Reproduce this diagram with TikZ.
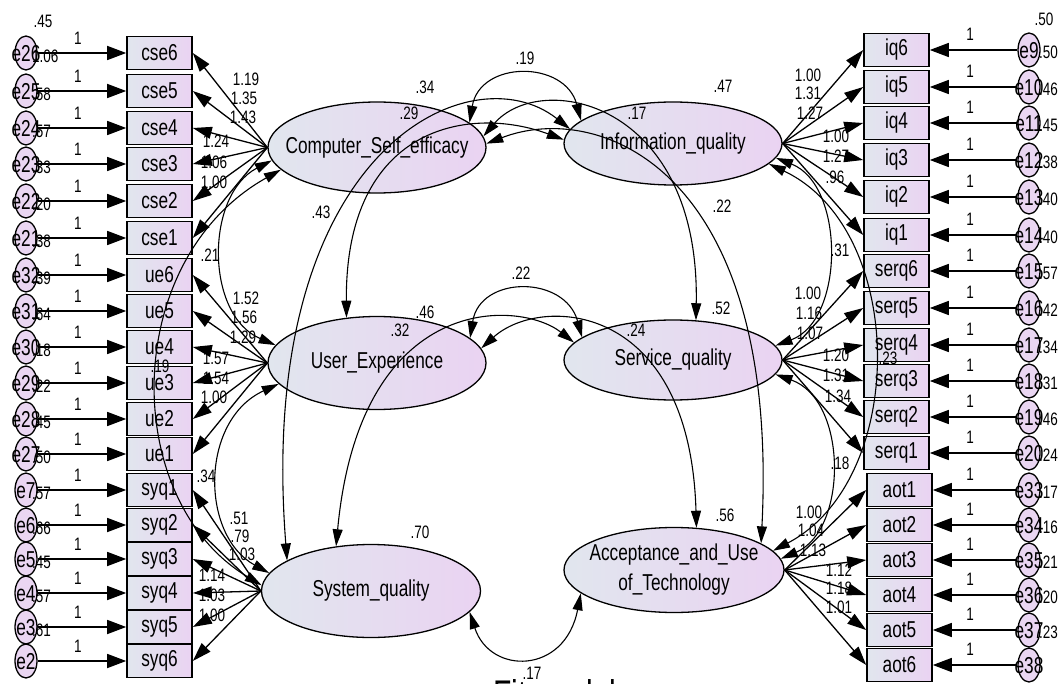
\documentclass[tikz,border=0pt]{standalone}
\usepackage{fontspec}
\setmainfont{Liberation Sans}[FakeStretch=0.75]
\usetikzlibrary{arrows.meta,shapes.geometric}
\definecolor{shL}{HTML}{E1E6EE}
\definecolor{shR}{HTML}{EAD3F2}
\definecolor{errC}{HTML}{EAD6F2}
\tikzset{
  lat/.style={ellipse, draw, line width=1.3pt, left color=shL, right color=shR, inner sep=0pt},
  lbl/.style={inner sep=0pt, align=center, font=\fontsize{23}{24}\selectfont},
  obs/.style={rectangle, draw, line width=1.6pt, minimum width=65pt, minimum height=33pt, left color=shL, right color=shR, inner sep=0pt, font=\fontsize{23}{24}\selectfont},
  err/.style={ellipse, draw, line width=1.3pt, minimum width=22pt, minimum height=34pt, fill=errC, inner sep=0pt},
  etxt/.style={inner sep=0pt, font=\fontsize{23}{24}\selectfont},
  num/.style={inner sep=0pt, font=\fontsize{18}{19}\selectfont},
  earr/.style={line width=1.5pt, -{Triangle[length=19pt,width=14pt]}},
  load/.style={line width=1.3pt, -{Triangle[length=19pt,width=12pt]}},
  cov/.style={line width=1.1pt, {Triangle[length=17pt,width=10pt]}-{Triangle[length=17pt,width=10pt]}}
}
\begin{document}
\begin{tikzpicture}[x=1pt,y=-1pt]
\useasboundingbox (0,0) rectangle (1059,684);
\fill[white] (0,0) rectangle (1059,684);

% latent variables
\node[lat, minimum width=218pt, minimum height=91pt] (CSE) at (377,147.5) {};
\node[lat, minimum width=218pt, minimum height=83pt] (IQ) at (673,143.5) {};
\node[lat, minimum width=218pt, minimum height=93pt] (UE) at (377,363) {};
\node[lat, minimum width=218pt, minimum height=80pt] (SQ) at (673,360) {};
\node[lat, minimum width=219pt, minimum height=93pt] (SYS) at (371,591) {};
\node[lat, minimum width=220pt, minimum height=85pt] (AUT) at (674,570) {};
\node[lbl] (CSEt) at (CSE) {Computer\_Self\_efficacy};
\node[lbl] (IQt) at (IQ) {Information\_quality};
\node[lbl] (UEt) at (UE) {User\_Experience};
\node[lbl] (SQt) at (SQ) {Service\_quality};
\node[lbl] (SYSt) at (SYS) {System\_quality};
\node[lbl, font=\fontsize{23}{30}\selectfont] (AUTt) at (AUT) {Acceptance\_and\_Use\\of\_Technology};

% left indicators
\foreach \n/\y/\e/\v in {cse6/53/e26/1.06, cse5/91/e25/.58, cse4/128/e24/.57, cse3/164/e23/.33, cse2/201/e22/.20, cse1/238/e21/.38,
  ue6/275/e32/.39, ue5/311/e31/.64, ue4/347/e30/.18, ue3/383/e29/.22, ue2/419/e28/.45, ue1/454/e27/.50,
  syq1/490/e7/.57, syq2/525/e6/.66, syq3/559/e5/.45, syq4/593/e4/.57, syq5/627/e3/.61, syq6/661/e2/}{
  \node[obs] (\n) at (159.5,\y) {\n};
  \node[err] (\e) at (26,\y) {};
  \draw[earr] (\e) -- (\n);
  \node[num] (\e-one) at (78,\y-15) {1};
  \node[num, anchor=west] (\e-var) at (32,\y+3) {\v};
  \node[etxt] (\e-t) at (26,\y+1) {\e};
}
% right indicators
\foreach \n/\y/\e/\v/\bx in {iq6/50/e9/.50/896.5, iq5/87/e10/.46/896.5, iq4/123/e11/.45/896.5, iq3/160/e12/.38/896.5, iq2/197/e13/.40/896.5, iq1/235/e14/.40/896.5,
  serq6/271/e15/.57/896.5, serq5/308/e16/.42/896.5, serq4/345/e17/.34/896.5, serq3/381/e18/.31/896.5, serq2/417/e19/.46/896.5, serq1/453/e20/.24/896.5,
  aot1/490/e33/.17/899.5, aot2/525/e34/.16/899.5, aot3/560/e35/.21/899.5, aot4/595/e36/.20/899.5, aot5/630/e37/.23/899.5, aot6/665/e38//899.5}{
  \node[obs] (\n) at (\bx,\y) {\n};
  \node[err] (\e) at (1029,\y) {};
  \draw[earr] (\e) -- (\n);
  \node[num] (\e-one) at (970,\y-16) {1};
  \node[num, anchor=east] (\e-var) at (1058,\y+2) {\v};
  \node[etxt] (\e-t) at (1029,\y+1) {\e};
}
\node[num] (v45) at (43,21) {.45};
\node[num] (v50) at (1044,19) {.50};

% loadings
\foreach \n in {cse6,cse5,cse4,cse3,cse2,cse1} \draw[load] (CSE.west) -- (\n.east);
\foreach \n in {ue6,ue5,ue4,ue3,ue2,ue1} \draw[load] (UE.west) -- (\n.east);
\foreach \n in {syq1,syq2,syq3,syq4,syq5,syq6} \draw[load] (SYS.west) -- (\n.east);
\foreach \n in {iq6,iq5,iq4,iq3,iq2,iq1} \draw[load] (IQ.east) -- (\n.west);
\foreach \n in {serq6,serq5,serq4,serq3,serq2,serq1} \draw[load] (SQ.east) -- (\n.west);
\foreach \n in {aot1,aot2,aot3,aot4,aot5,aot6} \draw[load] (AUT.east) -- (\n.west);

\foreach \t/\x/\y [count=\i] in {1.19/246/79, 1.35/244/98, 1.43/243/117, 1.24/216/141, 1.06/214/162, 1.00/214/182,
  1.52/246/298, 1.56/244/317, 1.29/243/337, 1.57/216/358, 1.54/216/378, 1.00/214/397,
  .51/239/518, .79/240/536, 1.03/242/554, 1.14/212/575, 1.03/212/595, 1.00/212/615,
  1.00/808/75, 1.31/808/93, 1.27/810/113, 1.00/836/136, 1.27/836/156, .96/835/177,
  1.00/808/293, 1.16/809/313, 1.07/810/333, 1.20/836/355, 1.31/836/375, 1.34/838/396,
  1.00/809/512, 1.04/811/530, 1.13/813/550, 1.12/839/570, 1.18/839/588, 1.01/839/607}
  \node[num] (ld\i) at (\x,\y) {\t};

% covariances
\draw[cov] (CSE.15) .. controls (480,60) and (565,60) .. (IQ.166);
\draw[cov] (UE.15) .. controls (480,275) and (565,275) .. (SQ.166);
\draw[cov] (SYS.-12) .. controls (490,675) and (565,675) .. (AUT.194);
\draw[cov] (CSE.187) .. controls (205,195) and (205,315) .. (UE.170);
\draw[cov] (UE.192) .. controls (200,420) and (200,535) .. (SYS.170);
\draw[cov] (CSE.193) .. controls (120,260) and (120,500) .. (SYS.177);
\draw[cov] (IQ.-8) .. controls (845,185) and (845,320) .. (SQ.8);
\draw[cov] (SQ.-8) .. controls (848,400) and (848,530) .. (AUT.6);
\draw[cov] (IQ.-12) .. controls (908,230) and (908,480) .. (AUT.11);
\draw[cov] (IQ.172) .. controls (470,50) and (255,150) .. (SYS.160);
\draw[cov] (IQ.178) .. controls (470,105) and (345,125) .. (UE.124);
\draw[cov] (CSE.6) .. controls (540,70) and (700,100) .. (SQ.60);
\draw[cov] (CSE.2) .. controls (600,100) and (780,170) .. (AUT.17);
\draw[cov] (UE.8) .. controls (540,295) and (690,300) .. (AUT.62);
\draw[cov] (SQ.170) .. controls (520,300) and (360,290) .. (SYS.128);

\foreach \t/\x/\y [count=\i] in {.19/525/58, .34/425/87, .29/409/113, .47/723/86, .17/637/113, .43/321/212, .22/722/206,
  .22/521/273, .46/425/312, .32/400/330, .52/721/308, .24/636/330,
  .70/420/532, .56/725/515, .17/532/673,
  .21/210/255, .34/206/476, .19/160/366, .31/840/250, .18/840/463, .23/888/358}
  \node[num] (cv\i) at (\x,\y) {\t};

\node[inner sep=0pt, anchor=base west, font=\fontsize{40}{42}\selectfont] (fit) at (493,708) {Fit model};
\end{tikzpicture}
\end{document}
